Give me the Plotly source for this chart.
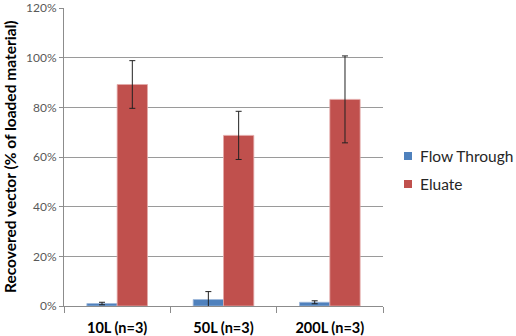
import plotly.graph_objects as go

categories = ["10L (n=3)", "50L (n=3)", "200L (n=3)"]
flow_through = [1.0, 2.6, 1.5]
flow_through_err = [0.5, 3.2, 0.6]
eluate = [89.2, 68.7, 83.2]
eluate_err = [9.6, 9.7, 17.5]
y_ticks = [0, 20, 40, 60, 80, 100, 120]
y_tick_labels = [f"{v}%" for v in y_ticks]
series_names = ["Flow Through", "Eluate"]
series_colors = ["#4F81BD", "#C0504D"]

FONT = "Lato"

fig = go.Figure()
fig.add_trace(go.Bar(
    x=categories, y=flow_through, name=series_names[0],
    marker=dict(color=series_colors[0], line=dict(color="#9DB7DA", width=0.8)),
    error_y=dict(type="data", array=flow_through_err, color="#222222", thickness=1, width=3),
))
fig.add_trace(go.Bar(
    x=categories, y=eluate, name=series_names[1],
    marker=dict(color=series_colors[1], line=dict(color="#E3A9A8", width=0.8)),
    error_y=dict(type="data", array=eluate_err, color="#222222", thickness=1, width=3),
))

W, H = 516, 336
ml, mr, mt, mb = 64, 133, 8, 30
pw = W - ml - mr
ph = H - mt - mb

def px_x(x):
    return (x - ml) / pw

def px_y(y):
    return (H - mb - y) / ph

fig.update_layout(
    width=W, height=H,
    margin=dict(l=ml, r=mr, t=mt, b=mb, pad=0),
    paper_bgcolor="white", plot_bgcolor="white",
    barmode="group", bargap=0.43, bargroupgap=0,
    showlegend=False,
    font=dict(family=FONT, color="#404040"),
    xaxis=dict(
        type="category", tickson="boundaries", ticks="outside", ticklen=6,
        tickcolor="#8c8c8c", showline=True, linecolor="#8c8c8c", linewidth=1,
        showgrid=False, tickfont=dict(family=FONT, size=14.5, color="#000000", weight="bold"),
        ticklabelstandoff=9,
        automargin=False,
    ),
    yaxis=dict(
        range=[0, 120], tickvals=y_ticks, ticktext=y_tick_labels,
        ticks="outside", ticklen=4, tickcolor="#8c8c8c",
        showline=True, linecolor="#8c8c8c", linewidth=1,
        gridcolor="#9a9a9a", gridwidth=1, zeroline=False,
        tickfont=dict(family=FONT, size=12, color="#595959"),
        automargin=False,
    ),
)

# Y-axis title
fig.add_annotation(
    text="Recovered vector (% of loaded material)", textangle=-90,
    xref="paper", yref="paper", x=px_x(10), y=0.5, xanchor="center", yanchor="middle",
    showarrow=False, font=dict(family=FONT, size=15.5, color="#000000", weight="bold"),
)

# Custom legend
legend_y = [156, 184]
for name, color, ly in zip(series_names, series_colors, legend_y):
    fig.add_shape(type="rect", xref="paper", yref="paper",
                  x0=px_x(404), x1=px_x(412), y0=px_y(ly + 4), y1=px_y(ly - 4),
                  fillcolor=color, line=dict(width=0))
    fig.add_annotation(text=name, xref="paper", yref="paper",
                       x=px_x(418), y=px_y(ly), xanchor="left", yanchor="middle",
                       showarrow=False, font=dict(family=FONT, size=15.5, color="#262626"))

fig.write_html("out.html")
